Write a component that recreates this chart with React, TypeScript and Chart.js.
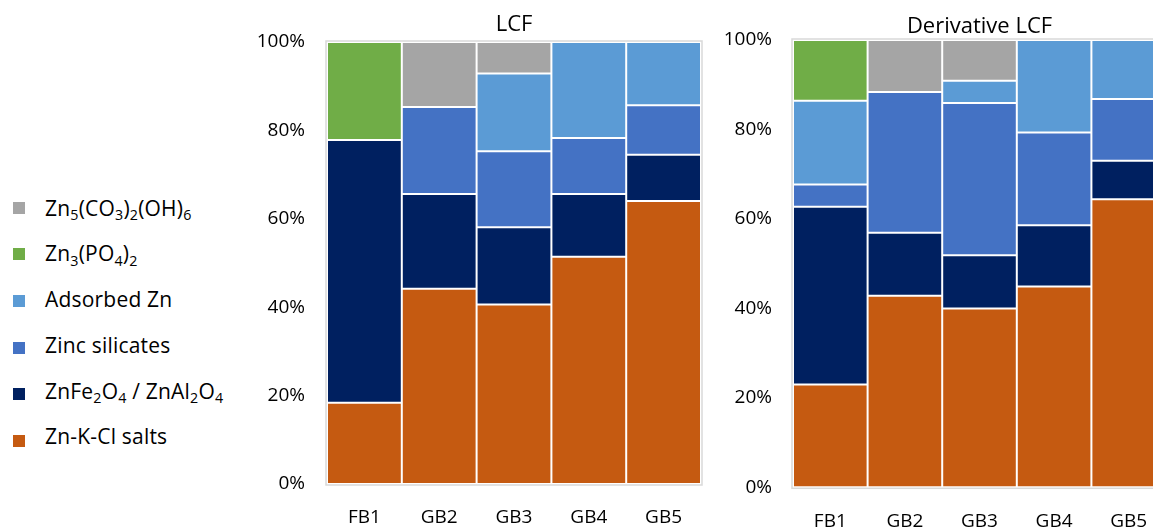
import React, { useEffect, useRef } from "react";
import { Chart, registerables } from "chart.js";

Chart.register(...registerables);

// Samples on the x axis
const samples = ["FB1", "GB2", "GB3", "GB4", "GB5"];

// Zn species, stacked from the bottom up
const phaseNames = [
  "Zn-K-Cl salts",
  "ZnFe2O4 / ZnAl2O4",
  "Zinc silicates",
  "Adsorbed Zn",
  "Zn3(PO4)2",
  "Zn5(CO3)2(OH)6",
];
const phaseColors = ["#C55A11", "#002060", "#4472C4", "#5B9BD5", "#70AD47", "#A5A5A5"];

// LCF fractions (%)
const lcfSalts = [18.4, 44.2, 40.6, 51.4, 64.0];
const lcfFerrites = [59.4, 21.4, 17.5, 14.2, 10.5];
const lcfSilicates = [0, 19.7, 17.2, 12.7, 11.2];
const lcfAdsorbed = [0, 0, 17.6, 21.7, 14.3];
const lcfPhosphate = [22.2, 0, 0, 0, 0];
const lcfHydrozincite = [0, 14.7, 7.1, 0, 0];

// Derivative LCF fractions (%)
const dLcfSalts = [23.0, 42.8, 40.0, 44.9, 64.4];
const dLcfFerrites = [39.7, 14.1, 11.9, 13.7, 8.6];
const dLcfSilicates = [5.0, 31.5, 34.0, 20.7, 13.8];
const dLcfAdsorbed = [18.7, 0, 5.0, 20.7, 13.2];
const dLcfPhosphate = [13.6, 0, 0, 0, 0];
const dLcfHydrozincite = [0, 11.6, 9.1, 0, 0];

// Percent axis
const yMin = 0;
const yMax = 100;
const yStep = 20;

const FONT = "'Open Sans', 'Noto Sans', sans-serif";

// Light frame around the plotting area
const framePlugin = {
  id: "plotFrame",
  beforeDatasetsDraw(chart: any) {
    const { ctx, chartArea: a } = chart;
    ctx.save();
    ctx.strokeStyle = "#D9D9D9";
    ctx.lineWidth = 1.5;
    ctx.strokeRect(a.left - 1, a.top - 1, a.right - a.left + 2, a.bottom - a.top + 2);
    ctx.restore();
  },
};

type Layout = {
  left: number;
  width: number;
  height: number;
  yAxisWidth: number;
  yTickPad: number;
  xTickPad: number;
  titleTop: number;
  titleBottom: number;
  padRight: number;
  padBottom: number;
};

function StackedPanel({ title, series, layout }: { title: string; series: number[][]; layout: Layout }) {
  const ref = useRef<HTMLCanvasElement | null>(null);

  useEffect(() => {
    if (!ref.current) return;
    const chart = new Chart(ref.current, {
      type: "bar",
      data: {
        labels: samples,
        datasets: series.map((values, i) => ({
          label: phaseNames[i],
          data: values,
          backgroundColor: phaseColors[i],
          borderColor: "#FFFFFF",
          borderWidth: 1,
          borderSkipped: false,
          inflateAmount: 0,
          barPercentage: 1,
          categoryPercentage: 1,
        })),
      },
      options: {
        animation: false,
        responsive: false,
        maintainAspectRatio: false,
        layout: { padding: { left: 0, top: 0, right: layout.padRight, bottom: layout.padBottom } },
        plugins: {
          legend: { display: false },
          tooltip: { enabled: false },
          title: {
            display: true,
            text: title,
            fullSize: false,
            color: "#000000",
            font: { family: FONT, size: 22, weight: "normal" },
            padding: { top: layout.titleTop, bottom: layout.titleBottom },
          },
        },
        scales: {
          x: {
            stacked: true,
            grid: { display: false, drawTicks: false },
            border: { display: false },
            ticks: {
              color: "#000000",
              font: { family: FONT, size: 19 },
              padding: layout.xTickPad,
              maxRotation: 0,
            },
          },
          y: {
            stacked: true,
            min: yMin,
            max: yMax,
            grid: { display: false, drawTicks: false },
            border: { display: false },
            ticks: {
              stepSize: yStep,
              color: "#000000",
              font: { family: FONT, size: 19 },
              padding: layout.yTickPad,
              callback: (v: any) => `${v}%`,
            },
            afterFit: (scale: any) => {
              scale.width = layout.yAxisWidth;
            },
          },
        },
      },
      plugins: [framePlugin],
    });
    return () => chart.destroy();
  }, [title, series, layout]);

  return (
    <canvas
      ref={ref}
      width={layout.width}
      height={layout.height}
      style={{ position: "absolute", left: layout.left, top: 0, width: layout.width, height: layout.height }}
    />
  );
}

// Chemical formulas: every digit run is a subscript
function Formula({ text }: { text: string }) {
  const parts = text.split(/(\d+)/);
  return (
    <>
      {parts.map((p, i) =>
        i % 2 === 1 ? (
          <span key={i} style={{ fontSize: "0.68em", position: "relative", top: "0.32em" }}>
            {p}
          </span>
        ) : (
          <span key={i}>{p}</span>
        )
      )}
    </>
  );
}

function Legend() {
  const order = phaseNames.map((_, i) => i).reverse();
  return (
    <>
      {order.map((idx, row) => (
        <React.Fragment key={idx}>
          <div
            style={{
              position: "absolute",
              left: 13,
              top: 201.5 + row * 46.7,
              width: 12,
              height: 12,
              background: phaseColors[idx],
            }}
          />
          <div
            style={{
              position: "absolute",
              left: 45,
              top: 208.3 + row * 45.7 - 11.6,
              height: 22,
              lineHeight: "22px",
              fontFamily: FONT,
              fontSize: 21,
              letterSpacing: "0.2px",
              color: "#000000",
              whiteSpace: "nowrap",
            }}
          >
            <Formula text={phaseNames[idx]} />
          </div>
        </React.Fragment>
      ))}
    </>
  );
}

const lcfSeries = [lcfSalts, lcfFerrites, lcfSilicates, lcfAdsorbed, lcfPhosphate, lcfHydrozincite];
const dLcfSeries = [dLcfSalts, dLcfFerrites, dLcfSilicates, dLcfAdsorbed, dLcfPhosphate, dLcfHydrozincite];

const lcfLayout: Layout = {
  left: 250,
  width: 460,
  height: 560,
  yAxisWidth: 77,
  yTickPad: 22,
  xTickPad: 22.5,
  titleTop: 11.5,
  titleBottom: 4.1,
  padRight: 9,
  padBottom: 8.2,
};

const dLcfLayout: Layout = {
  left: 712,
  width: 463,
  height: 560,
  yAxisWidth: 81,
  yTickPad: 21,
  xTickPad: 22.5,
  titleTop: 13.2,
  titleBottom: 0.4,
  padRight: 9,
  padBottom: 4.9,
};

export default function App() {
  return (
    <div
      style={{
        position: "absolute",
        left: 0,
        top: 0,
        width: 1153,
        height: 527,
        overflow: "hidden",
        background: "#FFFFFF",
      }}
    >
      <Legend />
      <StackedPanel title="LCF" series={lcfSeries} layout={lcfLayout} />
      <StackedPanel title="Derivative LCF" series={dLcfSeries} layout={dLcfLayout} />
    </div>
  );
}
